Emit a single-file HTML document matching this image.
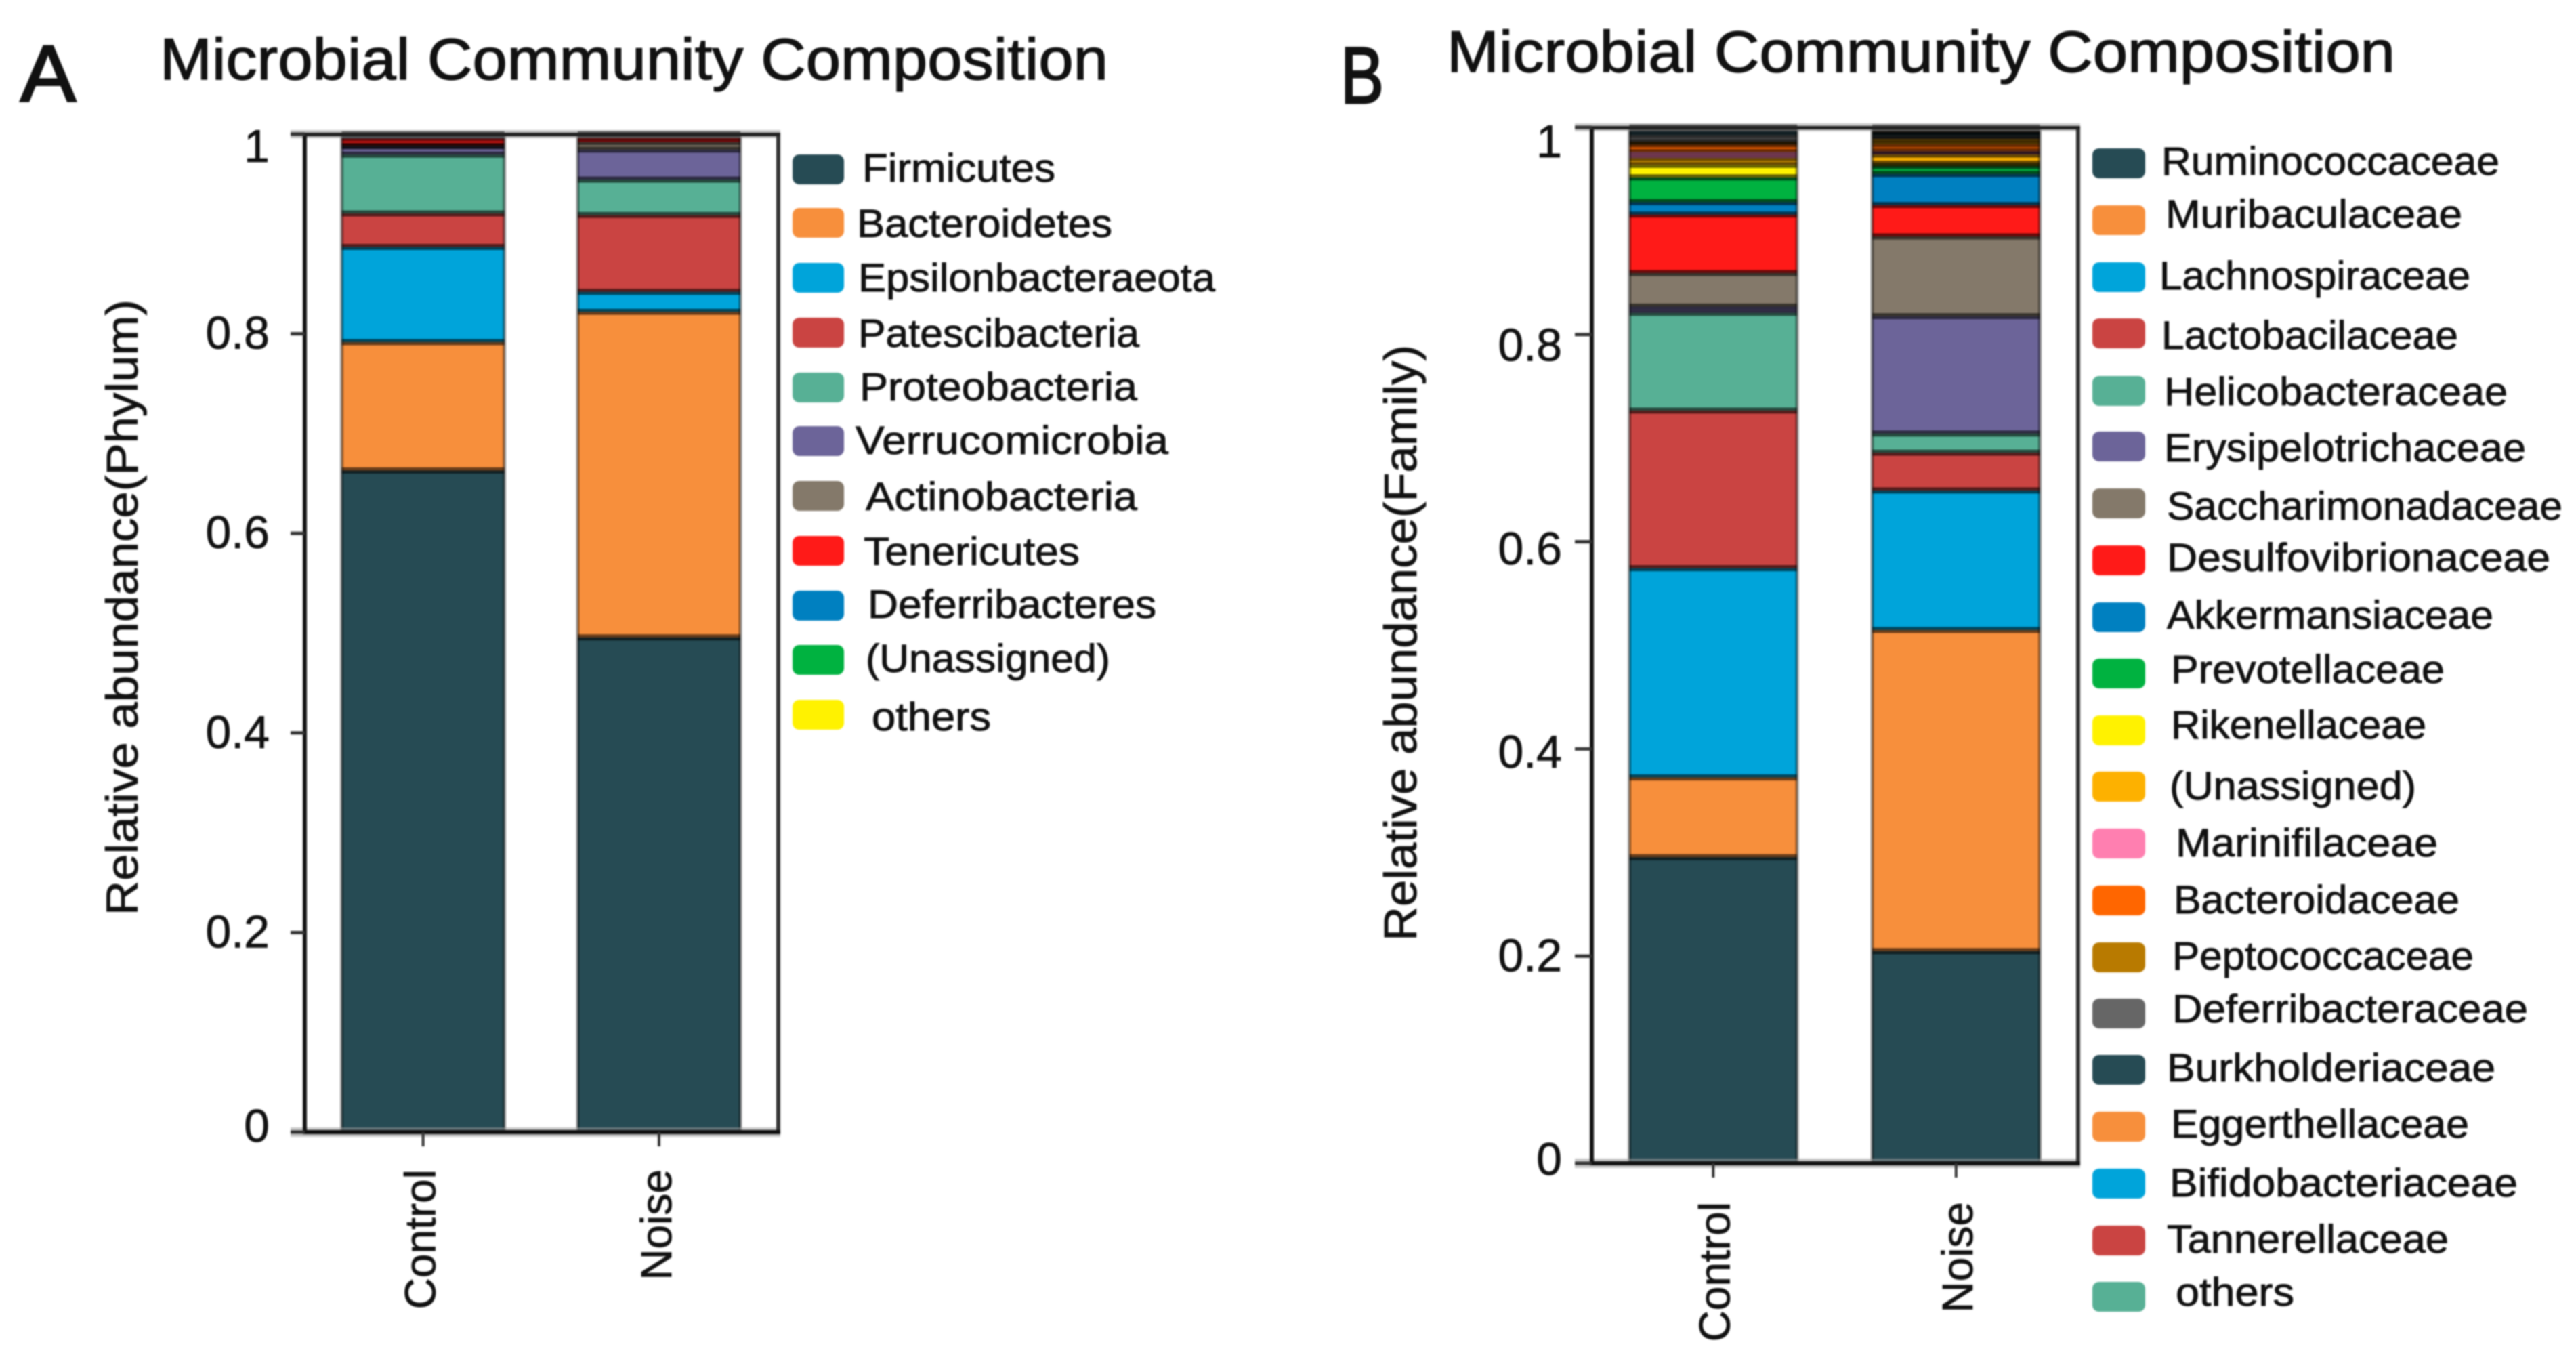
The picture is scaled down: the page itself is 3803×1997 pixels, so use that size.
<!DOCTYPE html>
<html lang="en">
<head>
<meta charset="utf-8">
<title>Microbial Community Composition</title>
<style>
html,body{margin:0;padding:0;background:#fff;}
svg{display:block;filter:blur(1px);}
text{font-family:"Liberation Sans",sans-serif;fill:#111;}
.leg{font-size:58px;stroke:#111;stroke-width:.9px;}
.ttl{font-size:86px;stroke:#111;stroke-width:1.4px;}
.pan{font-size:118px;stroke:#111;stroke-width:3px;}
.num{stroke:#111;stroke-width:.8px;}
.s0{fill:#264b54}.s1{fill:#f78f3c}.s2{fill:#00a4da}.s3{fill:#ca4442}.s4{fill:#57b095}
.s5{fill:#6c6499}.s6{fill:#84796a}.s7{fill:#ff1a18}.s8{fill:#0080c0}.s9{fill:#00b240}
.s10{fill:#fff200}.s11{fill:#fdb100}.s12{fill:#ff7fb0}.s13{fill:#ff6600}.s14{fill:#b87a00}
.s15{fill:#666666}.s16{fill:#264b54}.s17{fill:#f78f3c}.s18{fill:#00a4da}.s19{fill:#ca4442}.s20{fill:#57b095}
.pa0{fill:#264b54}.pa1{fill:#f78f3c}.pa2{fill:#00a4da}.pa3{fill:#ca4442}.pa4{fill:#57b095}
.pa5{fill:#6c6499}.pa6{fill:#84796a}.pa7{fill:#ff1a18}.pa8{fill:#0080c0}.pa9{fill:#00b240}.pa10{fill:#fff200}
</style>
</head>
<body>
<svg id="fig" xmlns="http://www.w3.org/2000/svg" width="3803" height="1997" viewBox="0 0 3803 1997">
<rect x="0" y="0" width="3803" height="1997" fill="#fff"/>

<text class="pan" x="30" y="149" textLength="82" lengthAdjust="spacingAndGlyphs">A</text>
<text class="ttl" x="236" y="117" textLength="1400" lengthAdjust="spacingAndGlyphs">Microbial Community Composition</text>
<text class="pan" x="1979" y="152" textLength="64" lengthAdjust="spacingAndGlyphs">B</text>
<text class="ttl" x="2136" y="106" textLength="1400" lengthAdjust="spacingAndGlyphs">Microbial Community Composition</text>

<text class="num" transform="rotate(-90 203 1351)" x="203" y="1351" font-size="66" textLength="909" lengthAdjust="spacingAndGlyphs">Relative abundance(Phylum)</text>
<text class="num" transform="rotate(-90 2091 1389)" x="2091" y="1389" font-size="68" textLength="880" lengthAdjust="spacingAndGlyphs">Relative abundance(Family)</text>

<g id="legend-a">
<rect class="pa0" x="1170" y="228" width="76" height="44" rx="10"/>
<text class="leg" x="1273" y="268" textLength="285" lengthAdjust="spacingAndGlyphs">Firmicutes</text>
<rect class="pa1" x="1170" y="307" width="76" height="44" rx="10"/>
<text class="leg" x="1265" y="350" textLength="377" lengthAdjust="spacingAndGlyphs">Bacteroidetes</text>
<rect class="pa2" x="1170" y="388" width="76" height="44" rx="10"/>
<text class="leg" x="1267" y="430" textLength="527" lengthAdjust="spacingAndGlyphs">Epsilonbacteraeota</text>
<rect class="pa3" x="1170" y="469" width="76" height="44" rx="10"/>
<text class="leg" x="1267" y="512" textLength="415" lengthAdjust="spacingAndGlyphs">Patescibacteria</text>
<rect class="pa4" x="1170" y="550" width="76" height="44" rx="10"/>
<text class="leg" x="1269" y="591" textLength="410" lengthAdjust="spacingAndGlyphs">Proteobacteria</text>
<rect class="pa5" x="1170" y="629" width="76" height="44" rx="10"/>
<text class="leg" x="1263" y="670" textLength="462" lengthAdjust="spacingAndGlyphs">Verrucomicrobia</text>
<rect class="pa6" x="1170" y="710" width="76" height="44" rx="10"/>
<text class="leg" x="1278" y="753" textLength="401" lengthAdjust="spacingAndGlyphs">Actinobacteria</text>
<rect class="pa7" x="1170" y="791" width="76" height="44" rx="10"/>
<text class="leg" x="1275" y="834" textLength="319" lengthAdjust="spacingAndGlyphs">Tenericutes</text>
<rect class="pa8" x="1170" y="872" width="76" height="44" rx="10"/>
<text class="leg" x="1281" y="912" textLength="426" lengthAdjust="spacingAndGlyphs">Deferribacteres</text>
<rect class="pa9" x="1170" y="952" width="76" height="44" rx="10"/>
<text class="leg" x="1278" y="992" textLength="361" lengthAdjust="spacingAndGlyphs">(Unassigned)</text>
<rect class="pa10" x="1170" y="1033" width="76" height="44" rx="10"/>
<text class="leg" x="1287" y="1078" textLength="176" lengthAdjust="spacingAndGlyphs">others</text>
</g>

<g id="legend-b">
<rect class="s0" x="3089" y="219" width="78" height="44" rx="10"/>
<text class="leg" x="3191" y="258" textLength="499" lengthAdjust="spacingAndGlyphs">Ruminococcaceae</text>
<rect class="s1" x="3089" y="303" width="78" height="44" rx="10"/>
<text class="leg" x="3197" y="336" textLength="438" lengthAdjust="spacingAndGlyphs">Muribaculaceae</text>
<rect class="s2" x="3089" y="387" width="78" height="44" rx="10"/>
<text class="leg" x="3188" y="427" textLength="459" lengthAdjust="spacingAndGlyphs">Lachnospiraceae</text>
<rect class="s3" x="3089" y="470" width="78" height="44" rx="10"/>
<text class="leg" x="3191" y="515" textLength="438" lengthAdjust="spacingAndGlyphs">Lactobacilaceae</text>
<rect class="s4" x="3089" y="555" width="78" height="44" rx="10"/>
<text class="leg" x="3195" y="598" textLength="507" lengthAdjust="spacingAndGlyphs">Helicobacteraceae</text>
<rect class="s5" x="3089" y="637" width="78" height="44" rx="10"/>
<text class="leg" x="3195" y="681" textLength="534" lengthAdjust="spacingAndGlyphs">Erysipelotrichaceae</text>
<rect class="s6" x="3089" y="721" width="78" height="44" rx="10"/>
<text class="leg" x="3199" y="767" textLength="584" lengthAdjust="spacingAndGlyphs">Saccharimonadaceae</text>
<rect class="s7" x="3089" y="805" width="78" height="44" rx="10"/>
<text class="leg" x="3199" y="843" textLength="566" lengthAdjust="spacingAndGlyphs">Desulfovibrionaceae</text>
<rect class="s8" x="3089" y="889" width="78" height="44" rx="10"/>
<text class="leg" x="3199" y="928" textLength="482" lengthAdjust="spacingAndGlyphs">Akkermansiaceae</text>
<rect class="s9" x="3089" y="972" width="78" height="44" rx="10"/>
<text class="leg" x="3205" y="1008" textLength="404" lengthAdjust="spacingAndGlyphs">Prevotellaceae</text>
<rect class="s10" x="3089" y="1056" width="78" height="44" rx="10"/>
<text class="leg" x="3205" y="1090" textLength="377" lengthAdjust="spacingAndGlyphs">Rikenellaceae</text>
<rect class="s11" x="3089" y="1139" width="78" height="44" rx="10"/>
<text class="leg" x="3203" y="1180" textLength="364" lengthAdjust="spacingAndGlyphs">(Unassigned)</text>
<rect class="s12" x="3089" y="1223" width="78" height="44" rx="10"/>
<text class="leg" x="3212" y="1264" textLength="387" lengthAdjust="spacingAndGlyphs">Marinifilaceae</text>
<rect class="s13" x="3089" y="1307" width="78" height="44" rx="10"/>
<text class="leg" x="3209" y="1348" textLength="422" lengthAdjust="spacingAndGlyphs">Bacteroidaceae</text>
<rect class="s14" x="3089" y="1391" width="78" height="44" rx="10"/>
<text class="leg" x="3207" y="1431" textLength="445" lengthAdjust="spacingAndGlyphs">Peptococcaceae</text>
<rect class="s15" x="3089" y="1474" width="78" height="44" rx="10"/>
<text class="leg" x="3207" y="1509" textLength="525" lengthAdjust="spacingAndGlyphs">Deferribacteraceae</text>
<rect class="s16" x="3089" y="1557" width="78" height="44" rx="10"/>
<text class="leg" x="3199" y="1596" textLength="485" lengthAdjust="spacingAndGlyphs">Burkholderiaceae</text>
<rect class="s17" x="3089" y="1641" width="78" height="44" rx="10"/>
<text class="leg" x="3205" y="1679" textLength="440" lengthAdjust="spacingAndGlyphs">Eggerthellaceae</text>
<rect class="s18" x="3089" y="1725" width="78" height="44" rx="10"/>
<text class="leg" x="3203" y="1766" textLength="514" lengthAdjust="spacingAndGlyphs">Bifidobacteriaceae</text>
<rect class="s19" x="3089" y="1809" width="78" height="44" rx="10"/>
<text class="leg" x="3199" y="1849" textLength="416" lengthAdjust="spacingAndGlyphs">Tannerellaceae</text>
<rect class="s20" x="3089" y="1892" width="78" height="44" rx="10"/>
<text class="leg" x="3212" y="1927" textLength="175" lengthAdjust="spacingAndGlyphs">others</text>
</g>

<g id="chart-a"></g>
<g id="chart-b"></g>
</svg>

<script>
const categories = ['Control', 'Noise'];
const yTicks = [0, 0.2, 0.4, 0.6, 0.8, 1];

const phylumNames = ['firmicutes','bacteroidetes','epsilonbacteraeota','patescibacteria','proteobacteria','verrucomicrobia','actinobacteria','tenericutes','deferribacteres','unassigned','others'];
const phylumControl = [0.663,0.1286,0.0954,0.0335,0.059,0.0083,0.0007,0.0072,0.003,0.0008,0.0005];
const phylumNoise = [0.4958,0.3262,0.02,0.077,0.0355,0.03,0.0075,0.0055,0.0015,0.0006,0.0004];

const familyNames = ['ruminococcaceae','muribaculaceae','lachnospiraceae','lactobacilaceae','helicobacteraceae','erysipelotrichaceae','saccharimonadaceae','desulfovibrionaceae','akkermansiaceae','prevotellaceae','rikenellaceae','unassigned','marinifilaceae','bacteroidaceae','peptococcaceae','deferribacteraceae','burkholderiaceae','eggerthellaceae','bifidobacteriaceae','tannerellaceae','others'];
const familyControl = [0.2955,0.077,0.202,0.1522,0.0943,0.006,0.0324,0.0564,0.0121,0.0239,0.012,0.0066,0.0059,0.0072,0.0027,0.0065,0.0058,0.0005,0.0004,0.0003,0.0003];
const familyNoise = [0.2048,0.31,0.1347,0.0365,0.0185,0.1132,0.077,0.0303,0.03,0.0077,0.0023,0.0088,0.0032,0.0066,0.0053,0.0032,0.0033,0.0018,0.0013,0.0007,0.0008];

const NS = 'http://www.w3.org/2000/svg';

function mk(parent, tag, attrs) {
  const el = document.createElementNS(NS, tag);
  for (const k in attrs) el.setAttribute(k, attrs[k]);
  parent.appendChild(el);
  return el;
}

function drawChart(cfg) {
  const g = document.getElementById(cfg.id);
  const y = v => cfg.y0 - v * (cfg.y0 - cfg.y1);
  const xLeft = i => cfg.barX + i * cfg.barStep;
  const xMid = i => xLeft(i) + cfg.barW / 2;

  cfg.series.forEach((values, c) => {
    let cum = 0;
    values.forEach((v, s) => {
      const top = y(Math.min(1, cum + v));
      const bottom = y(cum);
      const seg = mk(g, 'rect', {x: xLeft(c), y: top, width: cfg.barW, height: Math.max(0, bottom - top), class: cfg.prefix + s});
      
      
      cum += v;
    });
    cum = 0;
    values.forEach((v, s) => {
      cum += v;
      const edge = mk(g, 'rect', {x: xLeft(c), y: y(Math.min(1, cum)) - 4.5, width: cfg.barW, height: 9, fill: '#000', 'fill-opacity': 0.58});
      
      
    });
    [0, cfg.barW].forEach(dx => {
      const side = mk(g, 'rect', {x: xLeft(c) + dx - 2.5, y: cfg.y1, width: 5, height: cfg.y0 - cfg.y1, fill: '#000', 'fill-opacity': 0.42});
      
      
    });
  });

  const halo = mk(g, 'rect', {x: cfg.tickX, y: cfg.y1 - 6, width: cfg.xR - cfg.tickX + 3, height: 12, fill: '#999', 'fill-opacity': 0.55});
  
  
  const halo2 = mk(g, 'rect', {x: cfg.tickX, y: cfg.y0 - 7, width: cfg.xR - cfg.tickX + 3, height: 14, fill: '#999', 'fill-opacity': 0.55});
  
  

  const frame = [
    ['left-axis-line', cfg.xL - 3, cfg.y1, 6, cfg.y0 - cfg.y1, '#111'],
    ['right-axis-line', cfg.xR - 3, cfg.y1, 6, cfg.y0 - cfg.y1, '#333'],
    ['top-axis-line', cfg.xL - 3, cfg.y1 - 2, cfg.xR - cfg.xL + 6, 5, '#222'],
    ['bottom-axis-line', cfg.xL - 3, cfg.y0 - 3, cfg.xR - cfg.xL + 6, 6, '#111']
  ];
  frame.forEach(f => {
    const ln = mk(g, 'rect', {x: f[1], y: f[2], width: f[3], height: f[4], fill: f[5]});
    
    
  });

  yTicks.forEach(t => {
    const tk = mk(g, 'rect', {x: cfg.tickX, y: y(t) - 2.5, width: cfg.xL - cfg.tickX, height: 5, fill: '#333'});
    
    
    const lb = mk(g, 'text', {x: cfg.labelX, y: y(t) + cfg.labelOffset(t), 'text-anchor': 'end', 'font-size': 68, class: 'num'});
    
    
    lb.textContent = String(t);
  });

  categories.forEach((name, i) => {
    const tk = mk(g, 'rect', {x: xMid(i) - 2, y: cfg.y0, width: 4, height: 21, fill: '#333'});
    
    
    const bx = xMid(i) + cfg.catDx;
    const lb = mk(g, 'text', {x: bx, y: cfg.catEnd, 'text-anchor': 'end', 'font-size': 64, class: 'num', transform: 'rotate(-90 ' + bx + ' ' + cfg.catEnd + ')'});
    
    
    lb.textContent = name;
  });
}

drawChart({
  id: 'chart-a', prefix: 'pa', names: phylumNames, series: [phylumControl, phylumNoise],
  y0: 1671, y1: 198, xL: 450, xR: 1149, tickX: 429, labelX: 398,
  barX: 504.6, barStep: 348.4, barW: 240, catDx: 18, catEnd: 1726,
  labelOffset: v => v === 1 ? 41 : (v === 0 ? 14 : 22)
});
drawChart({
  id: 'chart-b', prefix: 's', names: familyNames, series: [familyControl, familyNoise],
  y0: 1717, y1: 188, xL: 2350, xR: 3068, tickX: 2325, labelX: 2306,
  barX: 2405.6, barStep: 358.4, barW: 247.5, catDx: 24, catEnd: 1774,
  labelOffset: v => 17 + v * 27
});
</script>
</body>
</html>
